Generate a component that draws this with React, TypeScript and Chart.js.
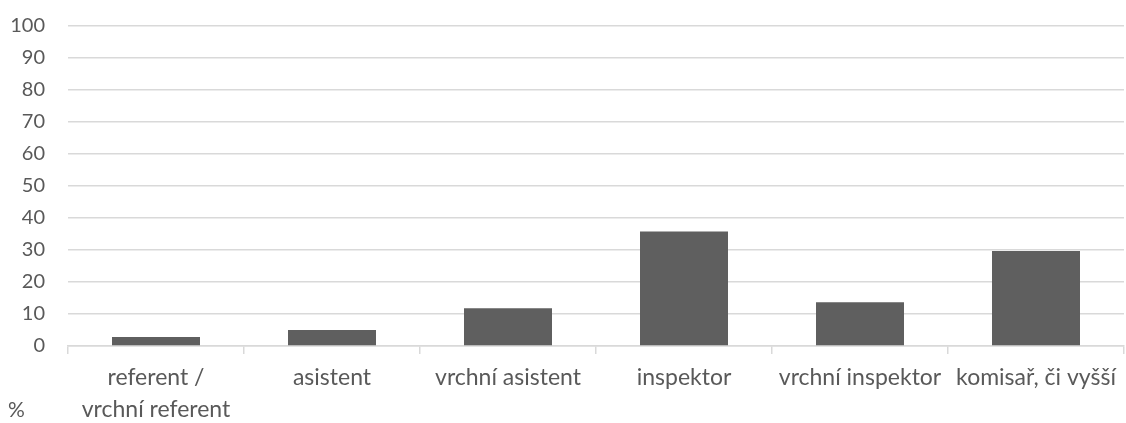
import React, { useEffect, useRef } from "react";
import { Chart, registerables } from "chart.js";

Chart.register(...registerables);

const categories: (string | string[])[] = [
  ["referent /", "vrchní referent"],
  "asistent",
  "vrchní asistent",
  "inspektor",
  "vrchní inspektor",
  "komisař, či vyšší",
];
const values: number[] = [2.8, 5.0, 11.8, 35.8, 13.7, 29.7];
const yTicks = { min: 0, max: 100, step: 10 };
const unitLabel = "%";

const FONT = "Lato, 'Noto Sans', sans-serif";

export default function App() {
  const ref = useRef<HTMLCanvasElement>(null);
  useEffect(() => {
    document.body.style.margin = "0";
    const unitPlugin = {
      id: "unitLabel",
      afterDraw(chart: any) {
        const ctx = chart.ctx;
        ctx.save();
        ctx.fillStyle = "#595959";
        ctx.font = `21px ${FONT}`;
        ctx.textAlign = "left";
        ctx.textBaseline = "middle";
        ctx.fillText(unitLabel, 8, 410);
        ctx.restore();
      },
    };
    const chart = new Chart(ref.current!, {
      type: "bar",
      data: {
        labels: categories,
        datasets: [
          {
            data: values,
            backgroundColor: "#5f5f5f",
            categoryPercentage: 1,
            barPercentage: 0.5,
          },
        ],
      },
      options: {
        animation: false,
        responsive: false,
        maintainAspectRatio: false,
        layout: { padding: { top: 26, right: 2, left: 0, bottom: 0 } },
        plugins: { legend: { display: false }, tooltip: { enabled: false } },
        scales: {
          x: {
            grid: {
              offset: true,
              drawOnChartArea: false,
              drawTicks: true,
              tickLength: 8,
              color: "#d9d9d9",
              lineWidth: 1.5,
            },
            border: { color: "#d9d9d9", width: 1.5 },
            ticks: {
              autoSkip: false,
              maxRotation: 0,
              minRotation: 0,
              color: "#595959",
              font: { family: FONT, size: 23, lineHeight: 1.42 },
              padding: 7,
            },
            afterFit(scale: any) {
              scale.height = 77;
            },
          },
          y: {
            min: yTicks.min,
            max: yTicks.max,
            ticks: {
              stepSize: yTicks.step,
              color: "#595959",
              font: { family: FONT, size: 20 },
              padding: 23,
            },
            grid: { color: "#d9d9d9", lineWidth: 1.5, drawTicks: false },
            border: { display: false },
            afterFit(scale: any) {
              scale.width = 68;
              scale.paddingTop = 0;
              scale.paddingBottom = 0;
            },
          },
        },
      },
      plugins: [unitPlugin],
    });
    return () => chart.destroy();
  }, []);
  return (
    <div style={{ position: "absolute", left: 0, top: 0, width: 1126, height: 423 }}>
      <canvas ref={ref} width={1126} height={423} />
    </div>
  );
}
